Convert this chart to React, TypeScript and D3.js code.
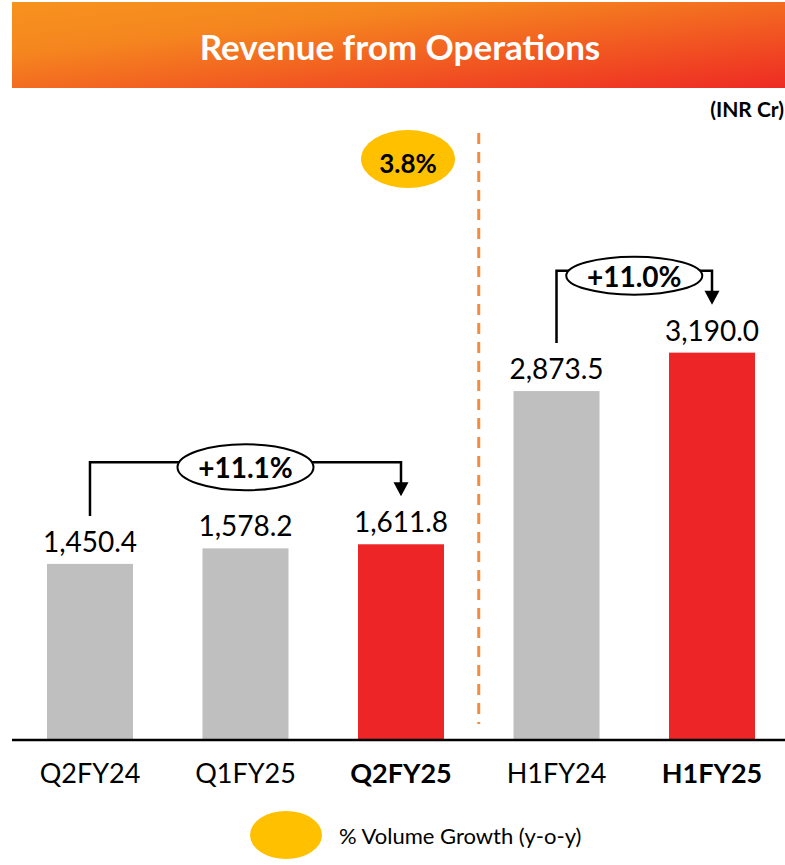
import React from 'react';
import * as d3 from 'd3';

const categories = ['Q2FY24', 'Q1FY25', 'Q2FY25', 'H1FY24', 'H1FY25'];
const revenue = [1450.4, 1578.2, 1611.8, 2873.5, 3190.0];
const highlighted = [false, false, true, false, true];
const growthFrom = ['Q2FY24', 'H1FY24'];
const growthTo = ['Q2FY25', 'H1FY25'];
const growthLabels = ['+11.1%', '+11.0%'];
const volumeGrowth = '3.8%';

const W = 785;
const H = 865;
const FONT = 'Lato, "Open Sans", sans-serif';

export default function App() {
  const baseline = 740;
  const x = d3
    .scaleBand<string>()
    .domain(categories)
    .range([12, 790])
    .paddingInner(0.447)
    .paddingOuter(0.225);
  const y = d3.scaleLinear().domain([0, 3500]).range([baseline, 315]);
  const bw = x.bandwidth();
  const cx = (c: string) => (x(c) as number) + bw / 2;
  const valueOf = (c: string) => revenue[categories.indexOf(c)];
  const fmt = d3.format(',.1f');

  // dashed divider between the quarter and half-year groups
  const divX = ((x('Q2FY25') as number) + bw + (x('H1FY24') as number)) / 2;

  return (
    <svg
      width={W}
      height={H}
      style={{ position: 'absolute', left: 0, top: 0 }}
      fontFamily={FONT}
    >
      <defs>
        <linearGradient id="hdr" x1="0" y1="0" x2="1" y2="1">
          <stop offset="0%" stopColor="#F7921E" />
          <stop offset="30%" stopColor="#F5861F" />
          <stop offset="100%" stopColor="#EE2A24" />
        </linearGradient>
      </defs>

      {/* header banner */}
      <rect x={12} y={2} width={W - 12} height={86} fill="url(#hdr)" />
      <text
        x={400}
        y={46}
        textAnchor="middle"
        dominantBaseline="central"
        fill="#fff"
        fontWeight="bold"
        fontSize={35}
      >
        Revenue from Operations
      </text>
      <text x={784} y={117} textAnchor="end" fontWeight="bold" fontSize={21} fill="#000">
        (INR Cr)
      </text>

      {/* divider */}
      <line
        x1={divX}
        x2={divX}
        y1={133}
        y2={724}
        stroke="#F58B3C"
        strokeWidth={3}
        strokeDasharray="11 8"
      />

      {/* volume growth bubble */}
      <ellipse cx={408} cy={159} rx={47} ry={29} fill="#FFC000" />
      <text
        x={408}
        y={163}
        textAnchor="middle"
        dominantBaseline="central"
        fontWeight="bold"
        fontSize={26}
        fill="#000"
      >
        {volumeGrowth}
      </text>

      {/* bars */}
      {categories.map((c, i) => (
        <g key={c}>
          <rect
            x={x(c)}
            y={y(revenue[i])}
            width={bw}
            height={baseline - y(revenue[i])}
            fill={highlighted[i] ? '#EE2526' : '#BFBFBF'}
          />
          <text
            x={cx(c)}
            y={y(revenue[i]) - 12}
            textAnchor="middle"
            fontSize={28}
            fill="#000"
          >
            {fmt(revenue[i])}
          </text>
          <text
            x={cx(c)}
            y={772}
            textAnchor="middle"
            dominantBaseline="central"
            fontSize={27}
            fontWeight={highlighted[i] ? 'bold' : 'normal'}
            fill="#000"
          >
            {c}
          </text>
        </g>
      ))}

      {/* axis */}
      <line x1={12} x2={W} y1={baseline} y2={baseline} stroke="#000" strokeWidth={2.5} />

      {/* growth brackets */}
      {growthLabels.map((lab, i) => {
        const xa = cx(growthFrom[i]);
        const xb = cx(growthTo[i]);
        const ya = y(valueOf(growthFrom[i])) - 48;
        const tipY = y(valueOf(growthTo[i])) - 48;
        const level = Math.min(y(valueOf(growthFrom[i])), y(valueOf(growthTo[i]))) - 82;
        const mx = (xa + xb) / 2;
        return (
          <g key={lab}>
            <path
              d={`M${xa},${ya}V${level}H${xb}V${tipY - 13}`}
              fill="none"
              stroke="#000"
              strokeWidth={2.5}
            />
            <path d={`M${xb - 7.5},${tipY - 14}L${xb + 7.5},${tipY - 14}L${xb},${tipY}Z`} fill="#000" />
            <ellipse
              cx={mx}
              cy={level + 5}
              rx={68}
              ry={i === 0 ? 23 : 19}
              fill="#fff"
              stroke="#000"
              strokeWidth={2}
            />
            <text
              x={mx}
              y={level + 5}
              textAnchor="middle"
              dominantBaseline="central"
              fontWeight="bold"
              fontSize={28}
              fill="#000"
            >
              {lab}
            </text>
          </g>
        );
      })}

      {/* legend */}
      <ellipse cx={286} cy={835} rx={36} ry={24} fill="#FFC000" />
      <text x={339} y={835} dominantBaseline="central" fontSize={22} fill="#000">
        % Volume Growth (y-o-y)
      </text>
    </svg>
  );
}
